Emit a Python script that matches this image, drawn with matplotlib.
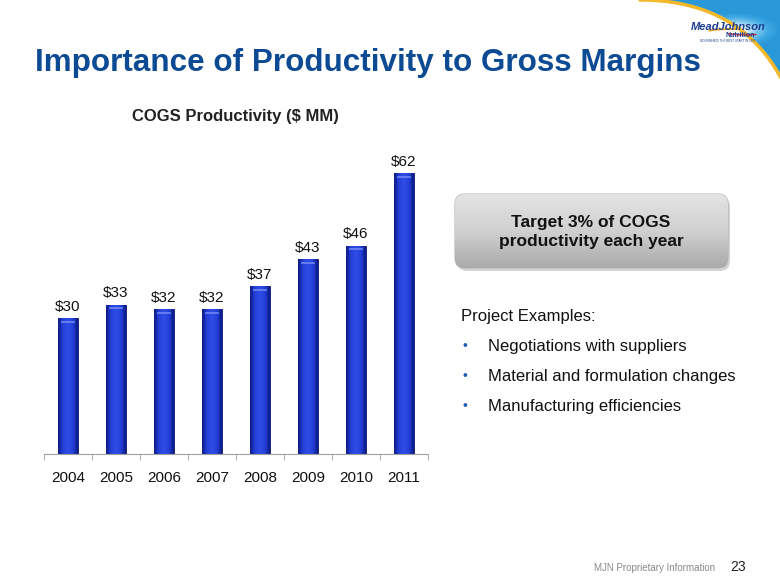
import numpy as np
import matplotlib
matplotlib.use("Agg")
import matplotlib.pyplot as plt
from matplotlib.patches import FancyBboxPatch, Polygon, Arc
from matplotlib.colors import LinearSegmentedColormap

# ===== Data =====
years = ["2004", "2005", "2006", "2007", "2008", "2009", "2010", "2011"]
values = [30, 33, 32, 32, 37, 43, 46, 62]
value_labels = [f"${v}" for v in values]
examples = [
    "Negotiations with suppliers",
    "Material and formulation changes",
    "Manufacturing efficiencies",
]

plt.rcParams["font.family"] = ["Liberation Sans", "DejaVu Sans"]

fig = plt.figure(figsize=(7.8, 5.85), dpi=100)
fig.patch.set_facecolor("white")

# ===== Page layer (pixel coordinates) =====
page = fig.add_axes([0, 0, 1, 1])
page.set_xlim(0, 780)
page.set_ylim(585, 0)
page.axis("off")

# logo swoosh in the corner
t = np.linspace(0, 1, 60)
p0, p1, p2 = np.array([640, 0]), np.array([740, 0]), np.array([782, 80])
arc_pts = ((1 - t) ** 2)[:, None] * p0 + (2 * (1 - t) * t)[:, None] * p1 + (t ** 2)[:, None] * p2
swoosh = Polygon(np.vstack([arc_pts, [[782, -2], [640, -2]]]), closed=True,
                 facecolor="none", edgecolor="none")
page.add_patch(swoosh)
sky = LinearSegmentedColormap.from_list("sky", ["#ffffff", "#d8effb", "#7cc6ee", "#3ea8e3", "#2a98d8"])
gx, gy = np.meshgrid(np.linspace(640, 780, 100), np.linspace(0, 90, 60))
glow = np.clip(np.hypot((gx - 735) / 45.0, (gy - 30) / 18.0), 0, 1)
im = page.imshow(glow, extent=(640, 780, 90, 0), cmap=sky, aspect="auto", zorder=1)
im.set_clip_path(swoosh)
page.plot(arc_pts[:, 0], arc_pts[:, 1], color="#f5b82a", lw=2.5, zorder=2, solid_capstyle="round")
page.add_patch(Arc((732, 37), 76, 16, theta1=195, theta2=300, color="#f0a818", lw=1.3, zorder=2))
page.add_patch(Arc((745, 29), 50, 12, theta1=25, theta2=165, color="#d4262c", lw=1.0, zorder=2))
page.text(728, 27, "MeadJohnson", fontsize=8, fontweight="bold", style="italic",
          color="#1d3f8f", ha="center", va="center", zorder=3)
page.text(740, 35.5, "Nutrition", fontsize=5, fontweight="bold", color="#1d3f8f",
          ha="center", va="center", zorder=3)
page.text(728, 41, "NOURISHING THE BEST START IN LIFE", fontsize=2.2, color="#1d3f8f",
          ha="center", va="center", zorder=3)

# main title
page.text(35, 63, "Importance of Productivity to Gross Margins",
          fontsize=22.6, fontweight="bold", color="#0d4a94", ha="left", va="center")

# chart title
page.text(235, 117, "COGS Productivity ($ MM)", fontsize=12, fontweight="bold",
          color="#222222", ha="center", va="center")

# gray target box
shadow = FancyBboxPatch((457, 197), 273, 74, boxstyle="round,pad=0,rounding_size=10",
                        facecolor="#d4d4d4", edgecolor="none", zorder=1)
page.add_patch(shadow)
box = FancyBboxPatch((455, 194), 273, 74, boxstyle="round,pad=0,rounding_size=10",
                     facecolor="#c0c0c0", edgecolor="#b5b5b5", lw=0.8, zorder=2)
page.add_patch(box)
greys = LinearSegmentedColormap.from_list("greys", ["#e4e4e4", "#d0d0d0", "#aaaaaa"])
bim = page.imshow(np.linspace(0, 1, 100)[:, None], extent=(455, 728, 268, 194),
                  cmap=greys, aspect="auto", zorder=2.5)
bim.set_clip_path(box)
page.text(591, 232, "Target 3% of COGS\nproductivity each year", fontsize=12.5,
          fontweight="bold", color="#111111", ha="center", va="center",
          linespacing=1.35, zorder=3)

# project examples
page.text(461, 317, "Project Examples:", fontsize=12, color="#111111", va="center")
for i, item in enumerate(examples):
    y = 346 + 30 * i
    page.text(465, y, "\u2022", fontsize=10, color="#1f5fb0", va="center", ha="center")
    page.text(488, y, item, fontsize=12, color="#111111", va="center")

# footer
page.text(715, 568, "MJN Proprietary Information", fontsize=7, color="#8a8a8a",
          ha="right", va="center")
page.text(730, 567, "23", fontsize=10, color="#222222", ha="left", va="center")

# ===== Bar chart =====
ax = fig.add_axes([44 / 780, 1 - 454 / 585, 384 / 780, 304 / 585])
ax.patch.set_alpha(0)
x = np.arange(len(years))
bars = ax.bar(x, values, width=0.4, color="#1a32c4", edgecolor="#0b1670",
              linewidth=0.6, zorder=2)
blues = LinearSegmentedColormap.from_list("blues", ["#0c1a86", "#2440d8", "#2f4ee6", "#2440d8", "#0c1a86"])
for b in bars:
    bx, bw, bh = b.get_x(), b.get_width(), b.get_height()
    g = ax.imshow(np.linspace(0, 1, 50)[None, :], extent=(bx, bx + bw, 0, bh),
                  cmap=blues, aspect="auto", zorder=2.5)
    g.set_clip_path(b)
    ax.plot([bx + bw * 0.2, bx + bw * 0.8], [bh - 0.8, bh - 0.8], color="#6f88f5",
            lw=1.2, zorder=3)

for xi, v, lab in zip(x, values, value_labels):
    ax.annotate(lab, (xi, v), xytext=(0, 3), textcoords="offset points",
                ha="center", va="bottom", fontsize=11, color="#111111")

ax.set_xlim(-0.5, 7.5)
ax.set_ylim(0, 304 / 4.53)
ax.set_xticks(x)
ax.set_xticklabels(years, fontsize=11, color="#111111")
ax.set_xticks(np.arange(-0.5, 8, 1), minor=True)
ax.tick_params(axis="x", which="major", length=0, pad=12)
ax.tick_params(axis="x", which="minor", length=4, color="#a0a0a0", direction="out")
ax.set_yticks([])
for s in ["top", "right", "left"]:
    ax.spines[s].set_visible(False)
ax.spines["bottom"].set_color("#a0a0a0")
ax.spines["bottom"].set_linewidth(0.8)

fig.savefig("out.png", dpi=100)
